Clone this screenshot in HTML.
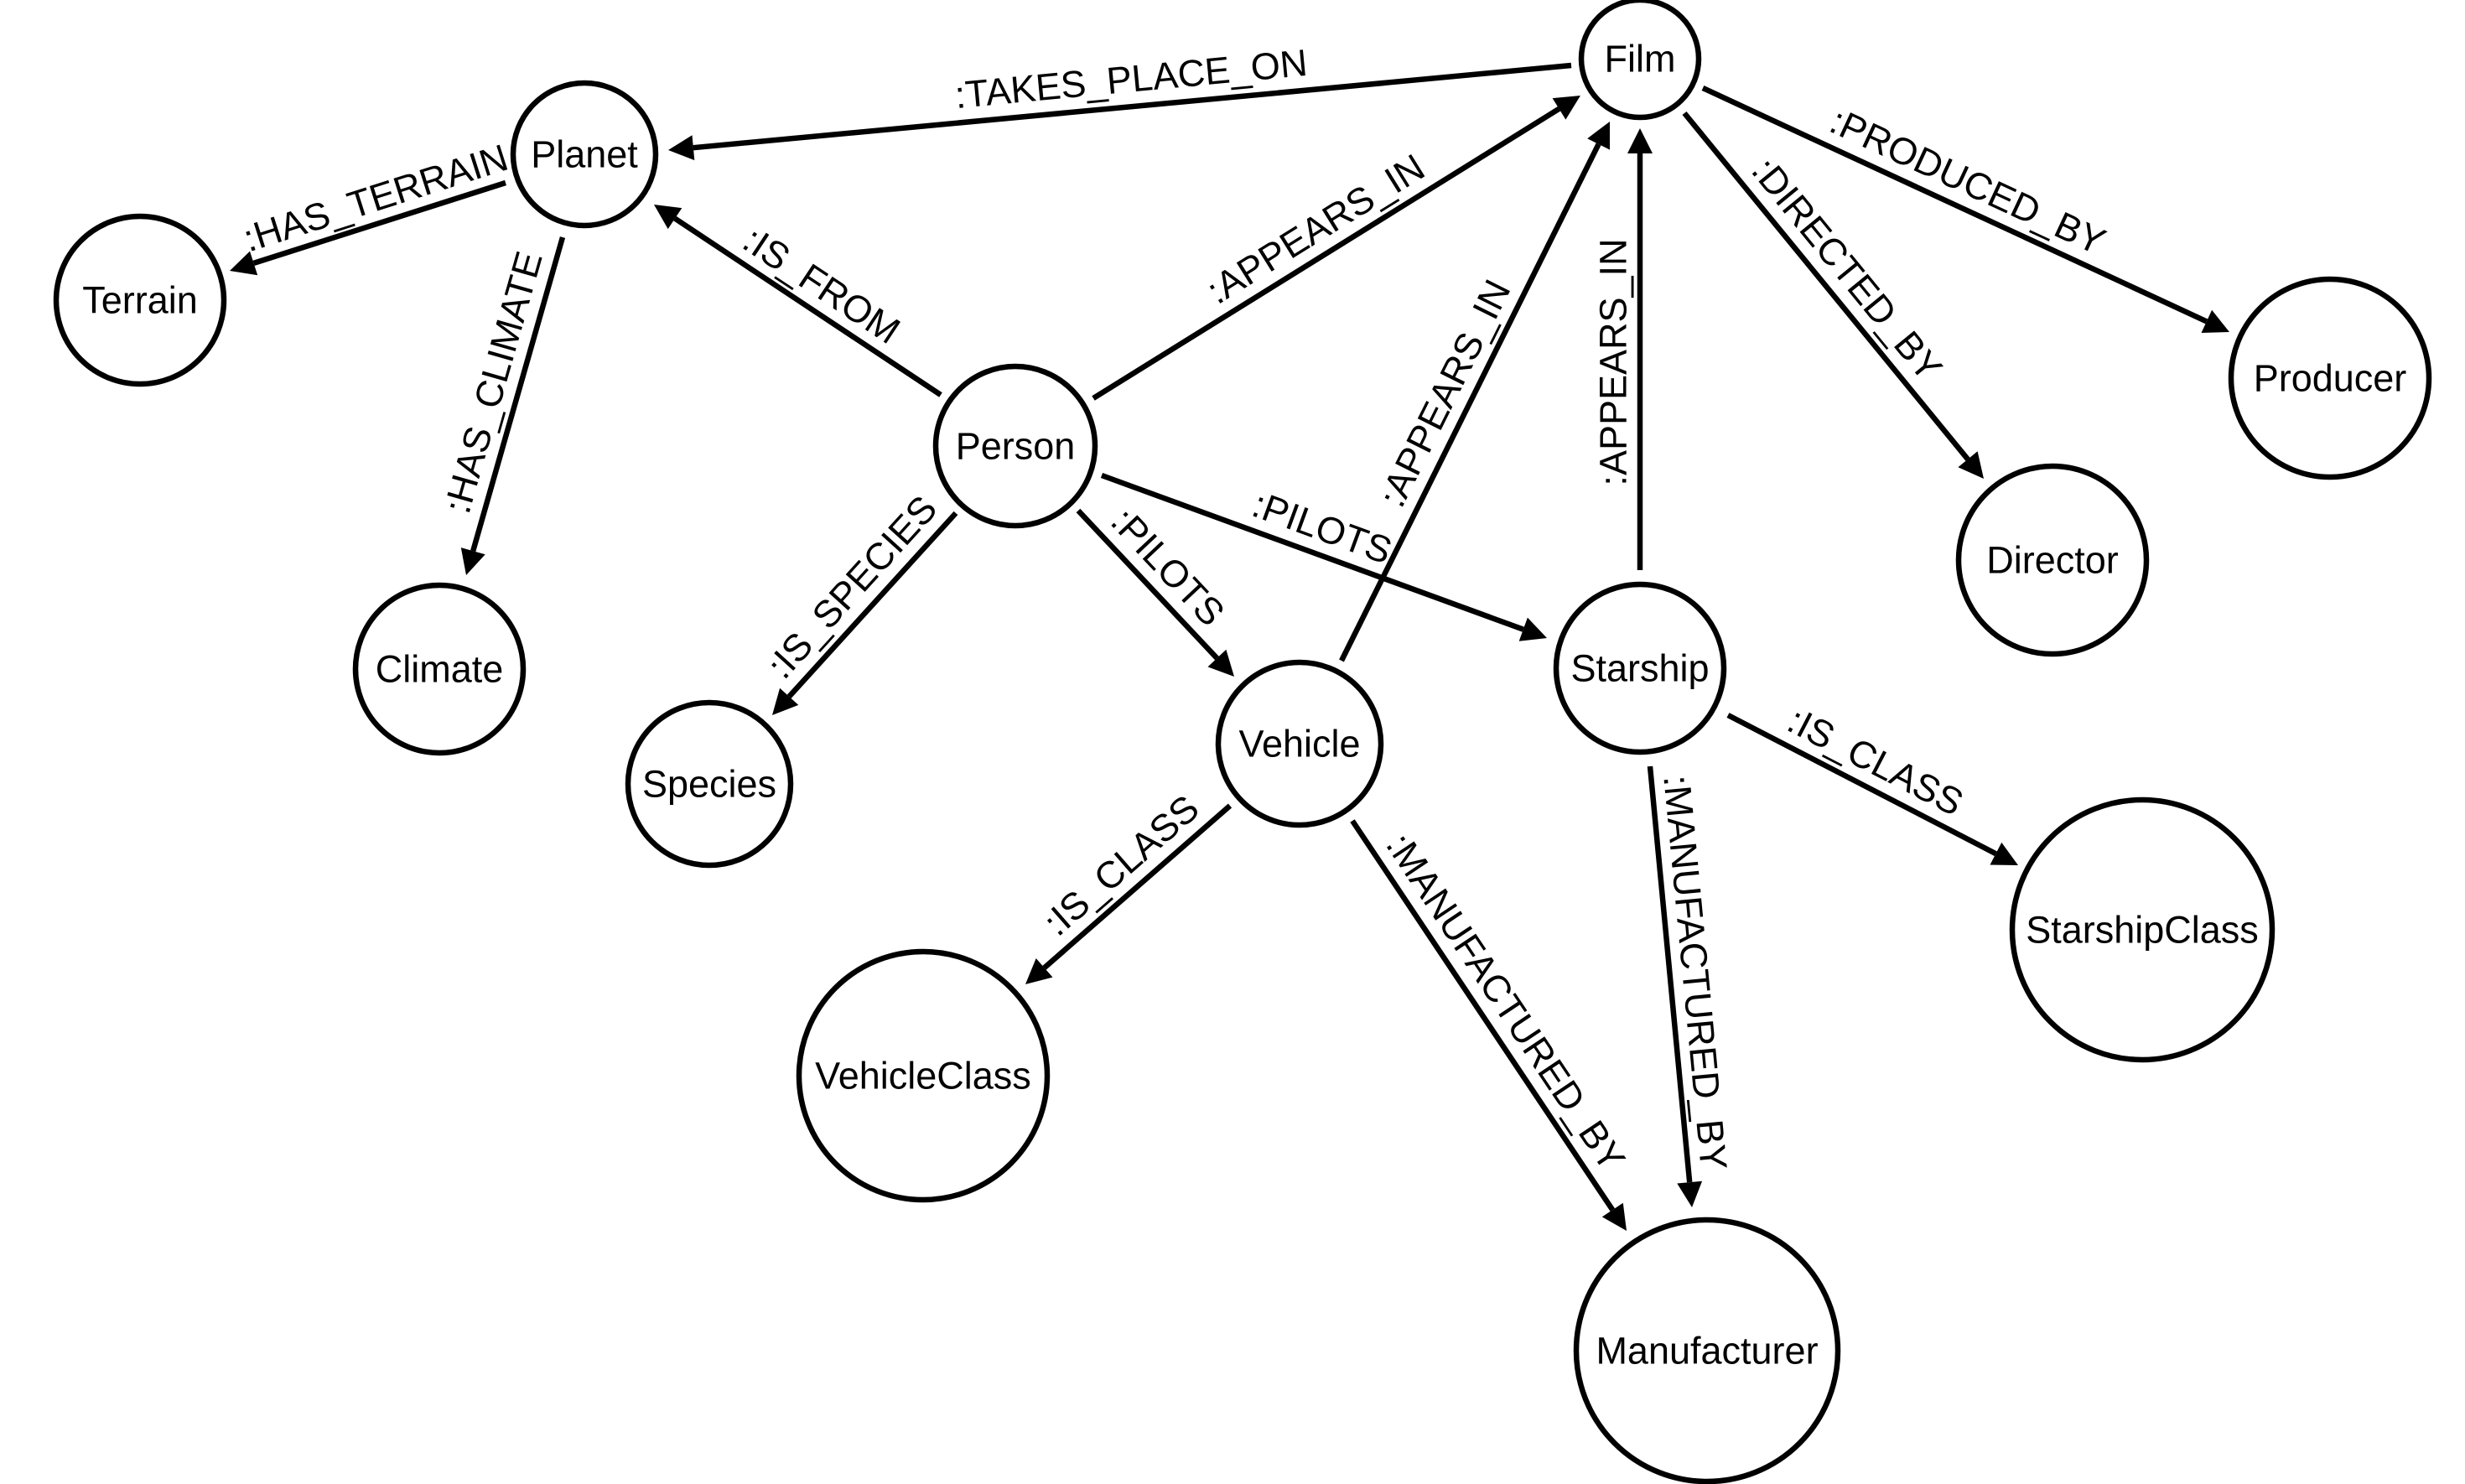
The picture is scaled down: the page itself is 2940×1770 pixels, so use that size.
<!DOCTYPE html>
<html>
<head>
<meta charset="utf-8">
<style>
  html, body { margin: 0; padding: 0; background: #ffffff; }
  svg { display: block; }
  text { font-family: "Liberation Sans", "DejaVu Sans", sans-serif; font-size: 45px; fill: #000; }
</style>
</head>
<body>
<svg width="2940" height="1770" viewBox="0 0 2940 1770" xmlns="http://www.w3.org/2000/svg">
  <rect x="0" y="0" width="2940" height="1770" fill="#ffffff"/>

  <!-- Edges (lines) -->
  <g stroke="#000" stroke-width="6.5" fill="none" stroke-linecap="butt">
    <line x1="1874" y1="78" x2="826.9" y2="176.2"/>
    <line x1="603" y1="218" x2="302.6" y2="313.9"/>
    <line x1="671" y1="283" x2="564.2" y2="657.2"/>
    <line x1="1122" y1="471" x2="805.0" y2="260.6"/>
    <line x1="1304" y1="475" x2="1859.5" y2="129.8"/>
    <line x1="1600" y1="788" x2="1906.6" y2="171.9"/>
    <line x1="1956" y1="680" x2="1956" y2="183"/>
    <line x1="2031" y1="105" x2="2631.8" y2="383.4"/>
    <line x1="2009" y1="135" x2="2347.0" y2="547.8"/>
    <line x1="1286" y1="609" x2="1451.5" y2="785.1"/>
    <line x1="1314" y1="567" x2="1816.8" y2="750.7"/>
    <line x1="1140" y1="612" x2="941.2" y2="830.8"/>
    <line x1="1467" y1="961" x2="1245.6" y2="1154.3"/>
    <line x1="1613" y1="979" x2="1923.3" y2="1443.1"/>
    <line x1="2061" y1="853" x2="2380.4" y2="1018.2"/>
    <line x1="1968" y1="914" x2="2015.2" y2="1410.1"/>
  </g>

  <!-- Arrowheads -->
  <g fill="#000" stroke="none">
    <polygon points="797,179 825.5,161.3 828.3,191.1"/>
    <polygon points="274,323 298.0,299.6 307.2,328.2"/>
    <polygon points="556,686 549.8,653.1 578.7,661.3"/>
    <polygon points="780,244 813.3,248.1 796.7,273.1"/>
    <polygon points="1885,114 1867.4,142.6 1851.6,117.1"/>
    <polygon points="1920,145 1920.0,178.6 1893.2,165.2"/>
    <polygon points="1956,153 1971,183 1941,183"/>
    <polygon points="2659,396 2625.5,397.0 2638.1,369.8"/>
    <polygon points="2366,571 2335.4,557.3 2358.6,538.3"/>
    <polygon points="1472,807 1440.5,795.4 1462.4,774.8"/>
    <polygon points="1845,761 1811.7,764.8 1821.9,736.6"/>
    <polygon points="921,853 930.1,820.7 952.3,840.9"/>
    <polygon points="1223,1174 1235.7,1143.0 1255.5,1165.6"/>
    <polygon points="1940,1468 1910.8,1451.4 1935.8,1434.8"/>
    <polygon points="2407,1032 2373.5,1031.5 2387.3,1004.9"/>
    <polygon points="2018,1440 2000.3,1411.5 2030.1,1408.7"/>
  </g>

  <!-- Edge labels -->
  <g text-anchor="middle" dominant-baseline="central">
    <text x="1349" y="94" transform="rotate(-5.36 1349 94)">:TAKES_PLACE_ON</text>
    <text x="448" y="236" transform="rotate(-17.7 448 236)">:HAS_TERRAIN</text>
    <text x="588" y="456" transform="rotate(-74.07 588 456)">:HAS_CLIMATE</text>
    <text x="980" y="340" transform="rotate(33.57 980 340)">:IS_FROM</text>
    <text x="1569" y="273" transform="rotate(-31.85 1569 273)">:APPEARS_IN</text>
    <text x="1723" y="469" transform="rotate(-63.54 1723 469)">:APPEARS_IN</text>
    <text x="1924" y="432" transform="rotate(-90 1924 432)">:APPEARS_IN</text>
    <text x="2347" y="216" transform="rotate(24.86 2347 216)">:PRODUCED_BY</text>
    <text x="2203" y="321" transform="rotate(50.69 2203 321)">:DIRECTED_BY</text>
    <text x="1393" y="676" transform="rotate(46.79 1393 676)">:PILOTS</text>
    <text x="1577" y="629" transform="rotate(20.07 1577 629)">:PILOTS</text>
    <text x="1016" y="700" transform="rotate(-47.74 1016 700)">:IS_SPECIES</text>
    <text x="1337" y="1032" transform="rotate(-41.12 1337 1032)">:IS_CLASS</text>
    <text x="1796" y="1195" transform="rotate(56.23 1796 1195)">:MANUFACTURED_BY</text>
    <text x="2237" y="908" transform="rotate(27.36 2237 908)">:IS_CLASS</text>
    <text x="2022" y="1160" transform="rotate(84.57 2022 1160)">:MANUFACTURED_BY</text>
  </g>

  <!-- Nodes -->
  <g stroke="#000" stroke-width="6.5" fill="#fff">
    <circle cx="1956" cy="70" r="70"/>
    <circle cx="697" cy="184" r="85"/>
    <circle cx="167" cy="358" r="100"/>
    <circle cx="524" cy="798" r="100"/>
    <circle cx="1211" cy="532" r="95"/>
    <circle cx="846" cy="935" r="97"/>
    <circle cx="1550" cy="887" r="97"/>
    <circle cx="1956" cy="797" r="100"/>
    <circle cx="1101" cy="1283" r="148"/>
    <circle cx="2036" cy="1611" r="156"/>
    <circle cx="2555" cy="1109" r="155"/>
    <circle cx="2779" cy="451" r="118"/>
    <circle cx="2448" cy="668" r="112"/>
  </g>

  <!-- Node labels -->
  <g text-anchor="middle" dominant-baseline="central">
    <text x="1956" y="70">Film</text>
    <text x="697" y="184">Planet</text>
    <text x="167" y="358">Terrain</text>
    <text x="524" y="798">Climate</text>
    <text x="1211" y="532">Person</text>
    <text x="846" y="935">Species</text>
    <text x="1550" y="887">Vehicle</text>
    <text x="1956" y="797">Starship</text>
    <text x="1101" y="1283">VehicleClass</text>
    <text x="2036" y="1611">Manufacturer</text>
    <text x="2555" y="1109">StarshipClass</text>
    <text x="2779" y="451">Producer</text>
    <text x="2448" y="668">Director</text>
  </g>
</svg>
</body>
</html>
